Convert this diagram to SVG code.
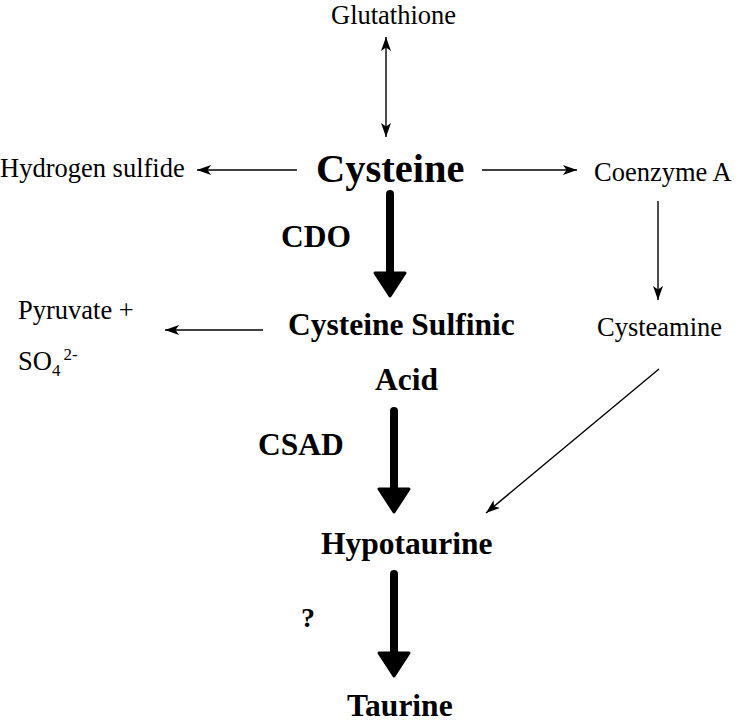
<svg xmlns="http://www.w3.org/2000/svg" width="736" height="724" viewBox="0 0 736 724">
<style>
text{font-family:"Liberation Serif","Times New Roman",serif;fill:#000}
.r{font-size:26.5px}
.b{font-size:31.5px;font-weight:bold}
.big{font-size:40.5px;font-weight:bold}
.thin{stroke:#000;stroke-width:1.4;fill:none}
.thick{stroke:#000;stroke-width:8;stroke-linecap:round;fill:none}
.head{fill:#000;stroke:#000;stroke-width:3;stroke-linejoin:round}
</style>
<defs>
<marker id="ah" viewBox="0 0 14 10" refX="14" refY="5" markerWidth="14" markerHeight="10" markerUnits="userSpaceOnUse" orient="auto-start-reverse">
<path d="M0,0 L14,5 L0,10 L3.5,5 Z" fill="#000"/>
</marker>
</defs>
<g id="connectors">
<line class="thin" x1="386" y1="37" x2="386" y2="137" marker-start="url(#ah)" marker-end="url(#ah)"/>
<line class="thin" x1="297" y1="170" x2="197" y2="170" marker-end="url(#ah)"/>
<line class="thin" x1="482" y1="170" x2="577" y2="170" marker-end="url(#ah)"/>
<line class="thin" x1="658" y1="201" x2="658" y2="300" marker-end="url(#ah)"/>
<line class="thin" x1="263" y1="330" x2="165" y2="330" marker-end="url(#ah)"/>
<line class="thin" x1="659" y1="369" x2="486" y2="513" marker-end="url(#ah)"/>
<g id="arrow-cdo">
<line class="thick" x1="390" y1="194" x2="390" y2="276"/>
<polygon class="head" points="375,273 405,273 390,296"/>
</g>
<g id="arrow-csad">
<line class="thick" x1="394" y1="411" x2="394" y2="492"/>
<polygon class="head" points="379,489 409,489 394,512"/>
</g>
<g id="arrow-unknown">
<line class="thick" x1="394" y1="574" x2="394" y2="656"/>
<polygon class="head" points="379,653 409,653 394,676"/>
</g>
</g>
<g id="glutathione"><text class="r" x="331" y="24">Glutathione</text></g>
<g id="hydrogen-sulfide"><text class="r" x="0" y="177">Hydrogen sulfide</text></g>
<g id="cysteine"><text class="big" x="316" y="182">Cysteine</text></g>
<g id="coenzyme-a"><text class="r" x="594" y="181">Coenzyme A</text></g>
<g id="cdo-label"><text class="b" x="281" y="247">CDO</text></g>
<g id="pyruvate-sulfate">
<text class="r" x="18" y="319">Pyruvate +</text>
<text class="r" x="18" y="370">SO<tspan font-size="17" dy="6">4</tspan><tspan font-size="17" dx="3" dy="-16">2-</tspan></text>
</g>
<g id="cysteine-sulfinic-acid">
<text class="b" x="288" y="335">Cysteine Sulfinic</text>
<text class="b" x="375" y="390">Acid</text>
</g>
<g id="cysteamine"><text class="r" x="597" y="336">Cysteamine</text></g>
<g id="csad-label"><text class="b" x="258" y="455">CSAD</text></g>
<g id="hypotaurine"><text class="b" x="321" y="554">Hypotaurine</text></g>
<g id="question-label"><text class="b" x="301" y="627" style="font-size:28px">?</text></g>
<g id="taurine"><text class="b" x="347" y="716">Taurine</text></g>
</svg>
